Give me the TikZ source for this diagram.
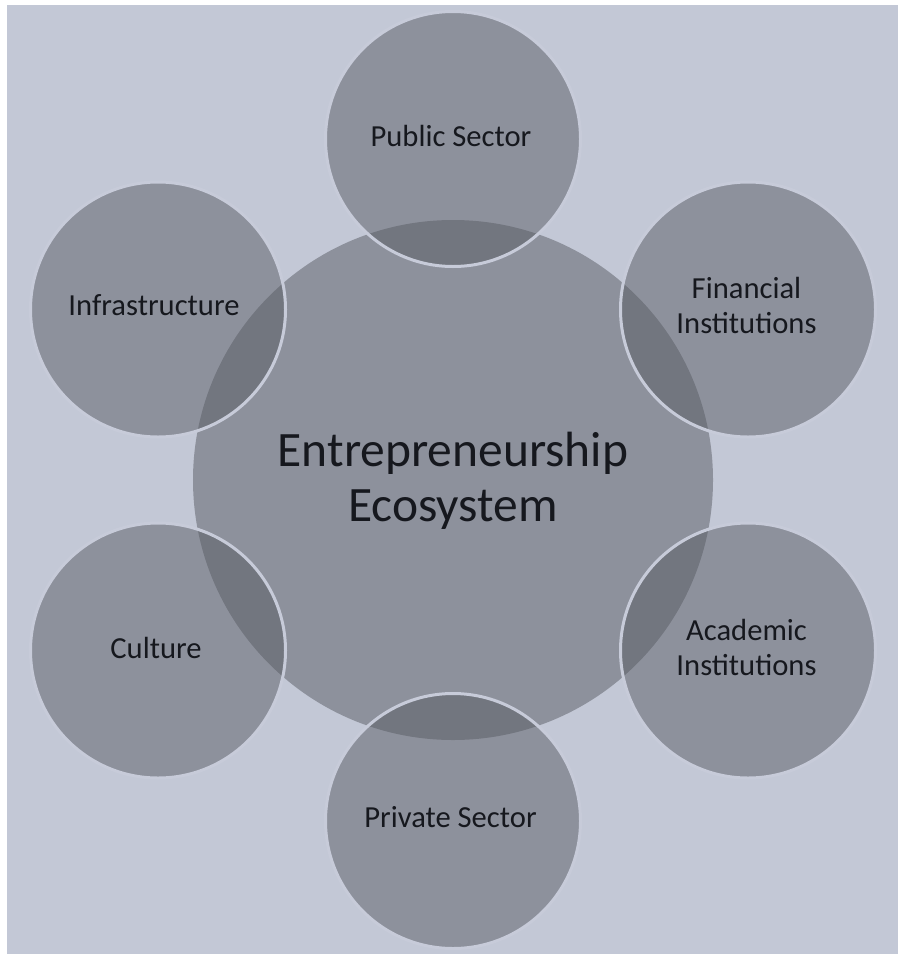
\documentclass[tikz,border=0pt]{standalone}
\usepackage{fontspec}
\setmainfont{Carlito}
\definecolor{bgc}{HTML}{C3C8D6}
\definecolor{circf}{HTML}{595C64}
\definecolor{rimc}{HTML}{C7CBD9}
\definecolor{txtc}{HTML}{16181E}
\begin{document}
\begin{tikzpicture}[x=1bp,y=-1bp,
  hub/.style={circle, fill=circf, fill opacity=0.5, minimum size=520bp, inner sep=0pt},
  sat/.style={circle, fill=circf, fill opacity=0.5, draw=rimc, draw opacity=1, line width=3bp, minimum size=255bp, inner sep=0pt},
  lbl/.style={text=txtc, text opacity=1, font=\fontsize{30.6bp}{35bp}\selectfont, align=center, inner sep=0pt},
  biglbl/.style={text=txtc, text opacity=1, font=\fontsize{49.5bp}{55bp}\selectfont, align=center, inner sep=0pt}]
\useasboundingbox (0,0) rectangle (898,954);
\fill[white] (0,0) rectangle (898,954);
\fill[bgc] (7,5) rectangle (898,954);
% central circle
\node[hub] (core) at (453,480) {};
% satellites
\node[sat] (pub) at (453,139) {};
\node[sat] (fin) at (748,309.5) {};
\node[sat] (aca) at (748,650.5) {};
\node[sat] (pri) at (453,821) {};
\node[sat] (cul) at (158,650.5) {};
\node[sat] (inf) at (158,309.5) {};
% labels
\node[biglbl] (coreT) at (453,480.5) {Entrepreneurship\\Ecosystem};
\node[lbl] (pubT) at (451,135.5) {Public Sector};
\node[lbl] (finT) at (746.5,305) {Financial\\Institutions};
\node[lbl] (acaT) at (746.5,647) {Academic\\Institutions};
\node[lbl] (priT) at (450.5,817.3) {Private Sector};
\node[lbl] (culT) at (156,648.3) {Culture};
\node[lbl] (infT) at (154,305.3) {Infrastructure};
\end{tikzpicture}
\end{document}
